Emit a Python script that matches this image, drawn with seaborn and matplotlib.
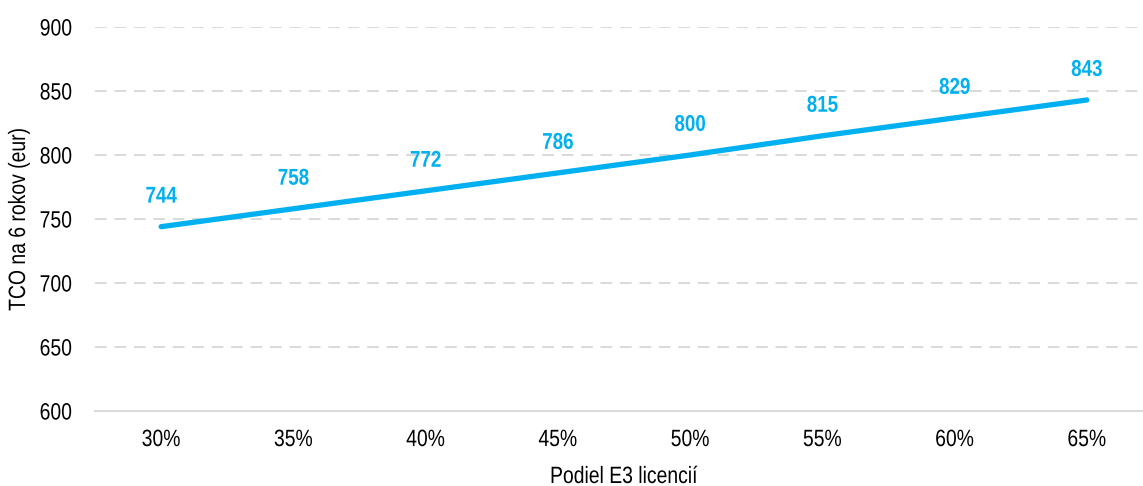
import matplotlib
matplotlib.use("Agg")
import matplotlib.pyplot as plt
from matplotlib.patheffects import AbstractPathEffect
from matplotlib.transforms import Affine2D
import seaborn as sns
import pandas as pd

categories = ["30%", "35%", "40%", "45%", "50%", "55%", "60%", "65%"]
tco_values = [744, 758, 772, 786, 800, 815, 829, 843]
y_ticks = [600, 650, 700, 750, 800, 850, 900]

sns.set_theme(style="white")
plt.rcParams['font.family'] = ['Liberation Sans', 'DejaVu Sans']


class Condense(AbstractPathEffect):
    """Narrow the glyphs along the text direction (mimics a 'Narrow' font)."""
    def __init__(self, sx=0.82):
        super().__init__()
        self.sx = sx

    def draw_path(self, renderer, gc, tpath, affine, rgbFace=None):
        ext = tpath.get_extents()
        cx = (ext.x0 + ext.x1) / 2.0
        t = Affine2D().translate(-cx, 0).scale(self.sx, 1).translate(cx, 0) + affine
        renderer.draw_path(gc, tpath, t, rgbFace)


narrow = [Condense(0.82)]
line_color = "#00B0F0"
df = pd.DataFrame({"Podiel": categories, "TCO": tco_values})

fig = plt.figure(figsize=(11.43, 4.86), dpi=100)
ax = fig.add_axes([95/1143, 75/486, (1153-95)/1143, (411-27)/486])

sns.lineplot(data=df, x="Podiel", y="TCO", sort=False, ax=ax,
             color=line_color, linewidth=3.8, solid_capstyle="round", zorder=3)

for i, v in enumerate(tco_values):
    ax.annotate(str(v), xy=(i, v), xytext=(0, 22), textcoords="offset points",
                ha="center", va="center", fontsize=16.5, fontweight="bold",
                color=line_color, zorder=4, path_effects=narrow)

ax.set_ylim(600, 900)
ax.set_xlim(-0.5, 7.5)
ax.set_yticks(y_ticks)
ax.set_yticklabels([str(t) for t in y_ticks])

for t in y_ticks[1:]:
    ax.axhline(t, color="#D9D9D9", linewidth=1.4, linestyle=(0, (6, 4)), zorder=1)

for s in ["top", "right", "left"]:
    ax.spines[s].set_visible(False)
ax.spines["bottom"].set_color("#D9D9D9")
ax.spines["bottom"].set_linewidth(1.4)

ax.tick_params(axis="both", length=0, labelsize=17, labelcolor="#000000")
ax.tick_params(axis="x", pad=13)
ax.tick_params(axis="y", pad=14)

for lbl in ax.get_xticklabels() + ax.get_yticklabels():
    lbl.set_path_effects(narrow)

ax.set_xlabel("Podiel E3 licencií", fontsize=17, color="#000000", path_effects=narrow)
ax.xaxis.label.set_va("baseline")
ax.xaxis.set_label_coords(0.5, -(483-411)/384)

ax.set_ylabel("TCO na 6 rokov (eur)", fontsize=17, color="#000000", path_effects=narrow)
ax.yaxis.label.set_va("center")
ax.yaxis.set_label_coords(-(95-19)/1058, 0.5)

fig.savefig("out.png", dpi=100)
